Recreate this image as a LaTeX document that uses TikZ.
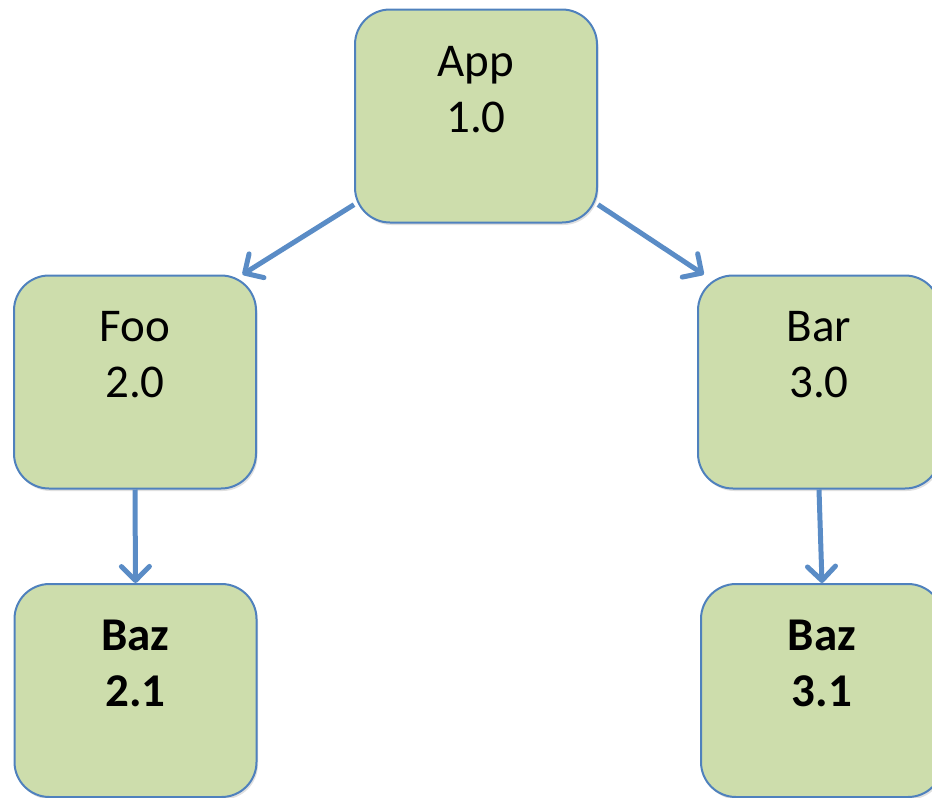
\documentclass[tikz,border=0pt]{standalone}
\usepackage{fontspec}
\setmainfont{Carlito}
\usetikzlibrary{arrows.meta,calc,shadows}
\definecolor{boxfill}{RGB}{205,221,172}
\definecolor{edgeblue}{RGB}{79,129,189}
\definecolor{arrowblue}{RGB}{90,140,198}
\tikzset{
  x=1pt,y=-1pt,
  vbox/.style={draw=edgeblue, line width=2pt, fill=boxfill, rounded corners=35pt,
    minimum width=242pt, minimum height=213pt, inner sep=0pt,
    drop shadow={shadow xshift=1.5pt, shadow yshift=-2.5pt, opacity=0.12, fill=black}},
  lbl/.style={anchor=north, align=center, inner sep=0pt,
    font=\fontsize{47}{56}\selectfont},
  boldlbl/.style={lbl, font=\fontsize{47}{56}\selectfont\bfseries},
  dep/.style={draw=arrowblue, line width=5pt,
    -{Straight Barb[length=14pt, width=28pt, line cap=round, line join=round]}}
}
\begin{document}
\begin{tikzpicture}
\useasboundingbox (0,0) rectangle (932,798);
\node[vbox] (app) at (476,116) {};
\node[vbox] (foo) at (135,382) {};
\node[vbox] (bar) at (819,382) {};
\node[vbox] (baz21) at (135.5,690.5) {};
\node[vbox] (baz31) at (822,690.5) {};
\node[lbl] (tapp) at ($(app.north)+(0,38)$) {App\\1.0};
\node[lbl] (tfoo) at ($(foo.north)+(0,37)$) {Foo\\2.0};
\node[lbl] (tbar) at ($(bar.north)+(0,37)$) {Bar\\3.0};
\node[boldlbl] (tbaz21) at ($(baz21.north)+(0,37)$) {Baz\\2.1};
\node[boldlbl] (tbaz31) at ($(baz31.north)+(0,37)$) {Baz\\3.1};
\draw[dep] (app.216) -- (foo.45);
\draw[dep] (app.-36.3) -- (bar.137);
\draw[dep] (foo.south) -- (baz21.north);
\draw[dep] (bar.south) -- (baz31.north);
\end{tikzpicture}
\end{document}
